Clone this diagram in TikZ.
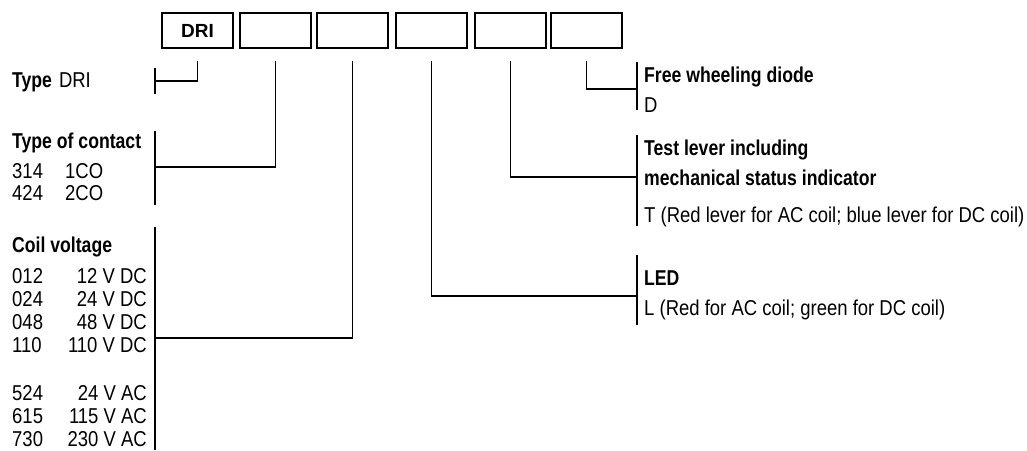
\documentclass[tikz,border=0pt]{standalone}
\usepackage{fontspec}
\setmainfont[FakeStretch=0.86]{Liberation Sans}
\newfontfamily\hfont[FakeStretch=0.82]{Liberation Sans Bold}
\newfontfamily\boxfont{Liberation Sans Bold}
\newcommand{\hd}[1]{{\hfont #1}}
\usetikzlibrary{calc}
\begin{document}
\begin{tikzpicture}[x=1pt,y=-1pt,
  ln/.style={line width=1.5pt},
  box/.style={draw, line width=1.6pt, minimum width=71pt, minimum height=35pt, inner sep=0pt,
    font=\fontsize{19}{21}\boxfont},
  txt/.style={anchor=base west, inner sep=0pt, font=\fontsize{21.5}{23}\selectfont},
  txr/.style={anchor=base east, inner sep=0pt, font=\fontsize{21.5}{23}\selectfont}]
\useasboundingbox (0,0) rectangle (1027,450);
% boxes
\node[box] (b1) at (197.5,30.5) {DRI};
\node[box] (b2) at (275.5,30.5) {};
\node[box] (b3) at (352.5,30.5) {};
\node[box] (b4) at (431.5,30.5) {};
\node[box] (b5) at (510.5,30.5) {};
\node[box] (b6) at (586.5,30.5) {};
% junction coordinates
\coordinate (jType) at (155,81);
\coordinate (jCont) at (155,167);
\coordinate (jCoil) at (155,338);
\coordinate (jFwd) at (637,89);
\coordinate (jTest) at (637,177);
\coordinate (jLed) at (637,296);
% brackets
\draw[ln] (155,68) -- (155,94);
\draw[ln] (155,131) -- (155,205);
\draw[ln] (155,227) -- (155,450);
\draw[ln] (637,62) -- (637,110);
\draw[ln] (637,135) -- (637,226);
\draw[ln] (637,255) -- (637,325);
% connectors
\draw[ln] ($(b1.south)+(0,12)$) |- (jType);
\draw[ln] ($(b2.south)+(0,12)$) |- (jCont);
\draw[ln] ($(b3.south)+(0,12)$) |- (jCoil);
\draw[ln] ($(b4.south)+(0,12)$) |- (jLed);
\draw[ln] ($(b5.south)+(0,12)$) |- (jTest);
\draw[ln] ($(b6.south)+(0,12)$) |- (jFwd);
% left texts
\node[txt] (type) at (12,87) {\hd{Type}\hspace{7pt}DRI};
\node[txt] (cont) at (12,148) {\hd{Type of contact}};
\node[txt] (c1) at (12,178) {314};
\node[txt] (c1v) at (65,178) {1CO};
\node[txt] (c2) at (12,200) {424};
\node[txt] (c2v) at (65,200) {2CO};
\node[txt] (coil) at (12,252) {\hd{Coil voltage}};
\node[txt] (v1) at (12,283) {012}; \node[txr] (v1v) at (147,283) {12 V DC};
\node[txt] (v2) at (12,306) {024}; \node[txr] (v2v) at (147,306) {24 V DC};
\node[txt] (v3) at (12,329) {048}; \node[txr] (v3v) at (147,329) {48 V DC};
\node[txt] (v4) at (12,352) {110}; \node[txr] (v4v) at (147,352) {110 V DC};
\node[txt] (v5) at (12,400) {524}; \node[txr] (v5v) at (147,400) {24 V AC};
\node[txt] (v6) at (12,423) {615}; \node[txr] (v6v) at (147,423) {115 V AC};
\node[txt] (v7) at (12,446) {730}; \node[txr] (v7v) at (147,446) {230 V AC};
% right texts
\node[txt] (fwd) at (644,82) {\hd{Free wheeling diode}};
\node[txt] (fwdd) at (644,112) {D};
\node[txt] (test1) at (644,155) {\hd{Test lever including}};
\node[txt] (test2) at (644,185) {\hd{mechanical status indicator}};
\node[txt] (testt) at (644,222) {T (Red lever for AC coil; blue lever for DC coil)};
\node[txt] (led) at (644,285) {\hd{LED}};
\node[txt] (ledl) at (644,315) {L (Red for AC coil; green for DC coil)};
\end{tikzpicture}
\end{document}
